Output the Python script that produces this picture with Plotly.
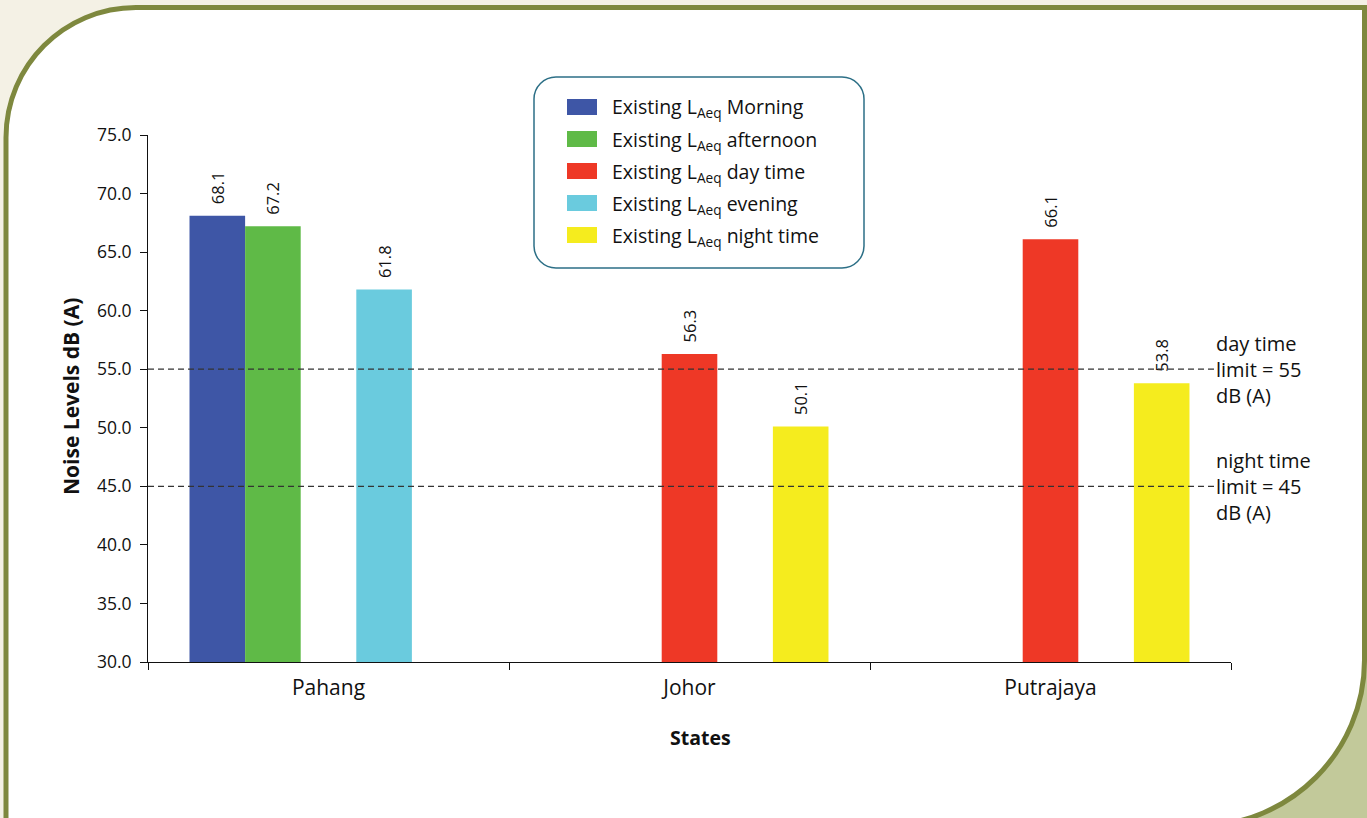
import plotly.graph_objects as go

# ---------------- data ----------------
states = ["Pahang", "Johor", "Putrajaya"]
series_names = [
    "Existing L<sub>Aeq</sub> Morning",
    "Existing L<sub>Aeq</sub> afternoon",
    "Existing L<sub>Aeq</sub> day time",
    "Existing L<sub>Aeq</sub> evening",
    "Existing L<sub>Aeq</sub> night time",
]
morning = [68.1, None, None]
afternoon = [67.2, None, None]
day_time = [None, 56.3, 66.1]
evening = [61.8, None, None]
night_time = [None, 50.1, 53.8]
series_values = [morning, afternoon, day_time, evening, night_time]
series_colors = ["#3E56A6", "#5FBA47", "#EE3826", "#6ACBDE", "#F5EC1E"]

limit_values = [55, 45]
limit_labels = ["day time<br>limit = 55<br>dB (A)", "night time<br>limit = 45<br>dB (A)"]

y_ticks = [30, 35, 40, 45, 50, 55, 60, 65, 70, 75]

# ---------------- layout helpers ----------------
W, H = 1367, 818
L, R, T, B = 148, 1231, 135, 662
FONT = "Open Sans"


def pp(x, y):
    return ((x - L) / (R - L), (B - y) / (B - T))


def fmt(x, y):
    fx, fy = pp(x, y)
    return f"{fx:.5f},{fy:.5f}"


def rounded_rect(x0, y0, x1, y1, r):
    k = 0.5523 * r
    return (
        f"M {fmt(x0 + r, y0)} L {fmt(x1 - r, y0)} "
        f"C {fmt(x1 - r + k, y0)} {fmt(x1, y0 + r - k)} {fmt(x1, y0 + r)} "
        f"L {fmt(x1, y1 - r)} "
        f"C {fmt(x1, y1 - r + k)} {fmt(x1 - r + k, y1)} {fmt(x1 - r, y1)} "
        f"L {fmt(x0 + r, y1)} "
        f"C {fmt(x0 + r - k, y1)} {fmt(x0, y1 - r + k)} {fmt(x0, y1 - r)} "
        f"L {fmt(x0, y0 + r)} "
        f"C {fmt(x0, y0 + r - k)} {fmt(x0 + r - k, y0)} {fmt(x0 + r, y0)} Z"
    )


fig = go.Figure()
for name, vals, col in zip(series_names, series_values, series_colors):
    fig.add_trace(go.Bar(
        x=states, y=vals, name=name, marker=dict(color=col, line=dict(width=0)),
        text=[("\u00a0\u00a0" + f"{v:.1f}") if v is not None else None for v in vals],
        textposition="outside", textangle=-90, constraintext="none",
        textfont=dict(family=FONT, size=16.5, color="#111"),
        cliponaxis=False, showlegend=False,
    ))

shapes = []
# bottom-right green area
shapes.append(dict(type="rect", xref="paper", yref="paper",
                   x0=pp(1100, 0)[0], x1=pp(1400, 0)[0], y0=pp(0, 560)[1], y1=pp(0, 840)[1],
                   fillcolor="#C2C99A", line=dict(width=0), layer="below"))
# page frame
r1, r2, k = 130, 166, 0.5523
xl, yt, xr, ya = 6, 7.5, 1364.5, 660
frame = (
    f"M {fmt(xl, 840)} L {fmt(xl, yt + r1)} "
    f"C {fmt(xl, yt + r1 - k * r1)} {fmt(xl + r1 - k * r1, yt)} {fmt(xl + r1, yt)} "
    f"L {fmt(xr, yt)} L {fmt(xr, ya)} "
    f"C {fmt(xr, ya + k * r2)} {fmt(xr - r2 + k * r2, ya + r2)} {fmt(xr - r2, ya + r2)} "
    f"L {fmt(xr - r2, 840)} Z"
)
shapes.append(dict(type="path", xref="paper", yref="paper", path=frame,
                   fillcolor="white", line=dict(color="#7E883E", width=5), layer="below"))
# legend box
shapes.append(dict(type="path", xref="paper", yref="paper",
                   path=rounded_rect(534, 77, 864, 268, 22),
                   fillcolor="white", line=dict(color="#2C6F86", width=1.5), layer="below"))

annotations = []
# legend entries
row_y = [107, 139, 171, 203, 235]
for name, col, ry in zip(series_names, series_colors, row_y):
    fx0, fy0 = pp(567, ry - 8)
    fx1, fy1 = pp(597, ry + 8)
    shapes.append(dict(type="rect", xref="paper", yref="paper", x0=fx0, x1=fx1, y0=fy1, y1=fy0,
                       fillcolor=col, line=dict(width=0), layer="above"))
    ax, ay = pp(610, ry + 1)
    annotations.append(dict(xref="paper", yref="paper", x=ax, y=ay, text=name, showarrow=False,
                            xanchor="left", yanchor="middle",
                            font=dict(family=FONT, size=19.5, color="#111")))

# limit lines and labels
for lv, lt in zip(limit_values, limit_labels):
    shapes.append(dict(type="line", xref="paper", yref="y", x0=0, x1=pp(1215, 0)[0], y0=lv, y1=lv,
                       line=dict(color="#333", width=1.2, dash="6px,4px"), layer="above"))
    annotations.append(dict(xref="paper", yref="y", x=pp(1214, 0)[0], y=lv, text=lt, showarrow=False,
                            xanchor="left", yanchor="middle", align="left",
                            font=dict(family=FONT, size=20, color="#111")))

# axis titles
tx, ty = pp(71, 397)
annotations.append(dict(xref="paper", yref="paper", x=tx, y=ty, text="<b>Noise Levels dB (A)</b>",
                        textangle=-90, showarrow=False, xanchor="center", yanchor="middle",
                        font=dict(family=FONT, size=21, color="#111")))
tx, ty = pp(700, 737)
annotations.append(dict(xref="paper", yref="paper", x=tx, y=ty, text="<b>States</b>",
                        showarrow=False, xanchor="center", yanchor="middle",
                        font=dict(family=FONT, size=19.5, color="#111")))

fig.update_layout(
    width=W, height=H,
    margin=dict(l=L, r=W - R, t=T, b=H - B, autoexpand=False),
    paper_bgcolor="#F4F1E5", plot_bgcolor="rgba(0,0,0,0)",
    barmode="group", bargap=0.23, bargroupgap=0,
    shapes=shapes, annotations=annotations,
    font=dict(family=FONT, color="#111"),
    xaxis=dict(showline=True, linecolor="#111", linewidth=1, ticks="outside", ticklen=7,
               tickson="boundaries", tickcolor="#111", showgrid=False, zeroline=False,
               ticklabelstandoff=7,
               tickfont=dict(family=FONT, size=21, color="#111"), range=[-0.5, 2.5]),
    yaxis=dict(showline=True, linecolor="#111", linewidth=1, ticks="outside", ticklen=7,
               tickcolor="#111", showgrid=False, zeroline=False, range=[30, 75],
               ticklabelstandoff=5,
               tickvals=y_ticks, ticktext=[f"{v:.1f}" for v in y_ticks],
               tickfont=dict(family=FONT, size=17.5, color="#111")),
)

fig.write_html(
    "out.html",
    config={"displayModeBar": False},
    post_script="document.body.style.margin='0';document.body.style.overflow='hidden';",
)
